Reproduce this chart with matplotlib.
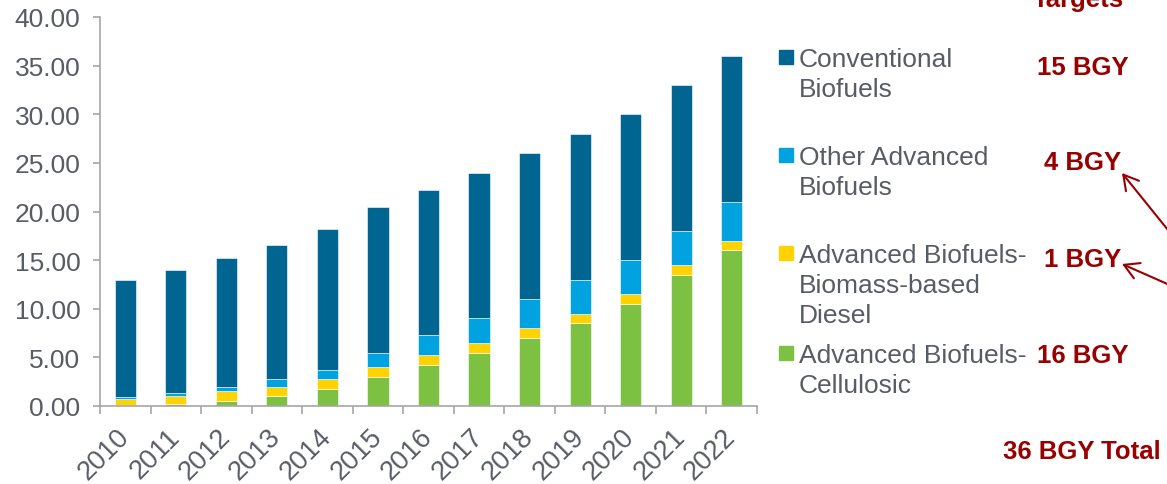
import matplotlib
matplotlib.use("Agg")
import matplotlib.pyplot as plt
import numpy as np
from matplotlib.patches import Rectangle, FancyArrowPatch

years = ["2010", "2011", "2012", "2013", "2014", "2015", "2016", "2017", "2018", "2019", "2020", "2021", "2022"]
cellulosic = [0.10, 0.25, 0.50, 1.00, 1.75, 3.00, 4.25, 5.50, 7.00, 8.50, 10.50, 13.50, 16.00]
biodiesel = [0.65, 0.80, 1.00, 1.00, 1.00, 1.00, 1.00, 1.00, 1.00, 1.00, 1.00, 1.00, 1.00]
other_adv = [0.20, 0.30, 0.50, 0.75, 1.00, 1.50, 2.00, 2.50, 3.00, 3.50, 3.50, 3.50, 4.00]
conventional = [12.00, 12.60, 13.20, 13.80, 14.40, 15.00, 15.00, 15.00, 15.00, 15.00, 15.00, 15.00, 15.00]

series = [
    ("Advanced Biofuels-\nCellulosic", cellulosic, "#7DC142"),
    ("Advanced Biofuels-\nBiomass-based\nDiesel", biodiesel, "#FFD200"),
    ("Other Advanced\nBiofuels", other_adv, "#00A3E0"),
    ("Conventional\nBiofuels", conventional, "#006691"),
]
targets = ["16 BGY", "1 BGY", "4 BGY", "15 BGY"]

plt.rcParams["font.family"] = ["Liberation Sans", "DejaVu Sans"]

W, H = 1167, 485
fig = plt.figure(figsize=(W / 100, H / 100), dpi=100)
ax = fig.add_axes([100 / W, 1 - 407 / H, 657 / W, 389 / H])

x = np.arange(len(years))
bottom = np.zeros(len(years))
for name, vals, col in series:
    ax.bar(x, vals, bottom=bottom, width=0.42, color=col, edgecolor="white", linewidth=0.4)
    bottom += np.array(vals)

gray = "#A6A6A6"
txtc = "#585C63"
ax.set_xlim(-0.5, len(years) - 0.5)
ax.set_ylim(0, 40)
ax.set_yticks(np.arange(0, 41, 5))
ax.set_yticklabels([f"{v:.2f}" for v in np.arange(0, 41, 5)])
for s in ["top", "right"]:
    ax.spines[s].set_visible(False)
for s in ["left", "bottom"]:
    ax.spines[s].set_color(gray)
    ax.spines[s].set_linewidth(1.2)
ax.tick_params(axis="y", colors=gray, labelcolor=txtc, labelsize=19, length=5, width=1.2,
               direction="out", pad=9)
ax.set_xticks(x)
ax.set_xticklabels(years, rotation=45, ha="right", va="center", rotation_mode="anchor")
ax.tick_params(axis="x", which="major", length=0, labelsize=19.5, labelcolor=txtc, pad=19)
ax.set_xticks(np.arange(-0.5, len(years), 1), minor=True)
ax.tick_params(axis="x", which="minor", length=6, width=1.2, colors=gray, direction="out")

# legend (manual), first-line baselines in pixels
leg_items = [
    (series[3], 67),
    (series[2], 165),
    (series[1], 263),
    (series[0], 363),
]
for (name, vals, col), base in leg_items:
    fig.patches.append(Rectangle((779 / W, 1 - (base - 2) / H), 14 / W, 14 / H,
                                 transform=fig.transFigure, color=col, figure=fig))
    for i, line in enumerate(name.split("\n")):
        fig.text(799 / W, 1 - (base + 30 * i) / H, line, color=txtc, fontsize=19,
                 va="baseline", ha="left")

red = "#990000"
tpos = [(1083, 356), (1083, 260), (1083, 163), (1083, 68)]
for t, (px, py) in zip(targets, tpos):
    fig.text(px / W, 1 - py / H, t, color=red, fontsize=18.5, fontweight="bold",
             ha="center", va="center")
fig.text(1078 / W, 1 - 7 / H, "Targets", color=red, fontsize=18.5, fontweight="bold",
         ha="center", va="baseline")
fig.text(1082 / W, 1 - 452 / H, "36 BGY Total", color=red, fontsize=18.5, fontweight="bold",
         ha="center", va="center")

for (tx, ty), (sx, sy) in [((1122, 174), (1172, 236)), ((1122, 265), (1172, 287))]:
    fig.add_artist(FancyArrowPatch(
        (sx / W, 1 - sy / H), (tx / W, 1 - ty / H), transform=fig.transFigure,
        arrowstyle="->,head_length=7,head_width=4", color=red, linewidth=1.5,
        mutation_scale=1.5, shrinkA=0, shrinkB=0))

fig.savefig("out.png", dpi=100)
